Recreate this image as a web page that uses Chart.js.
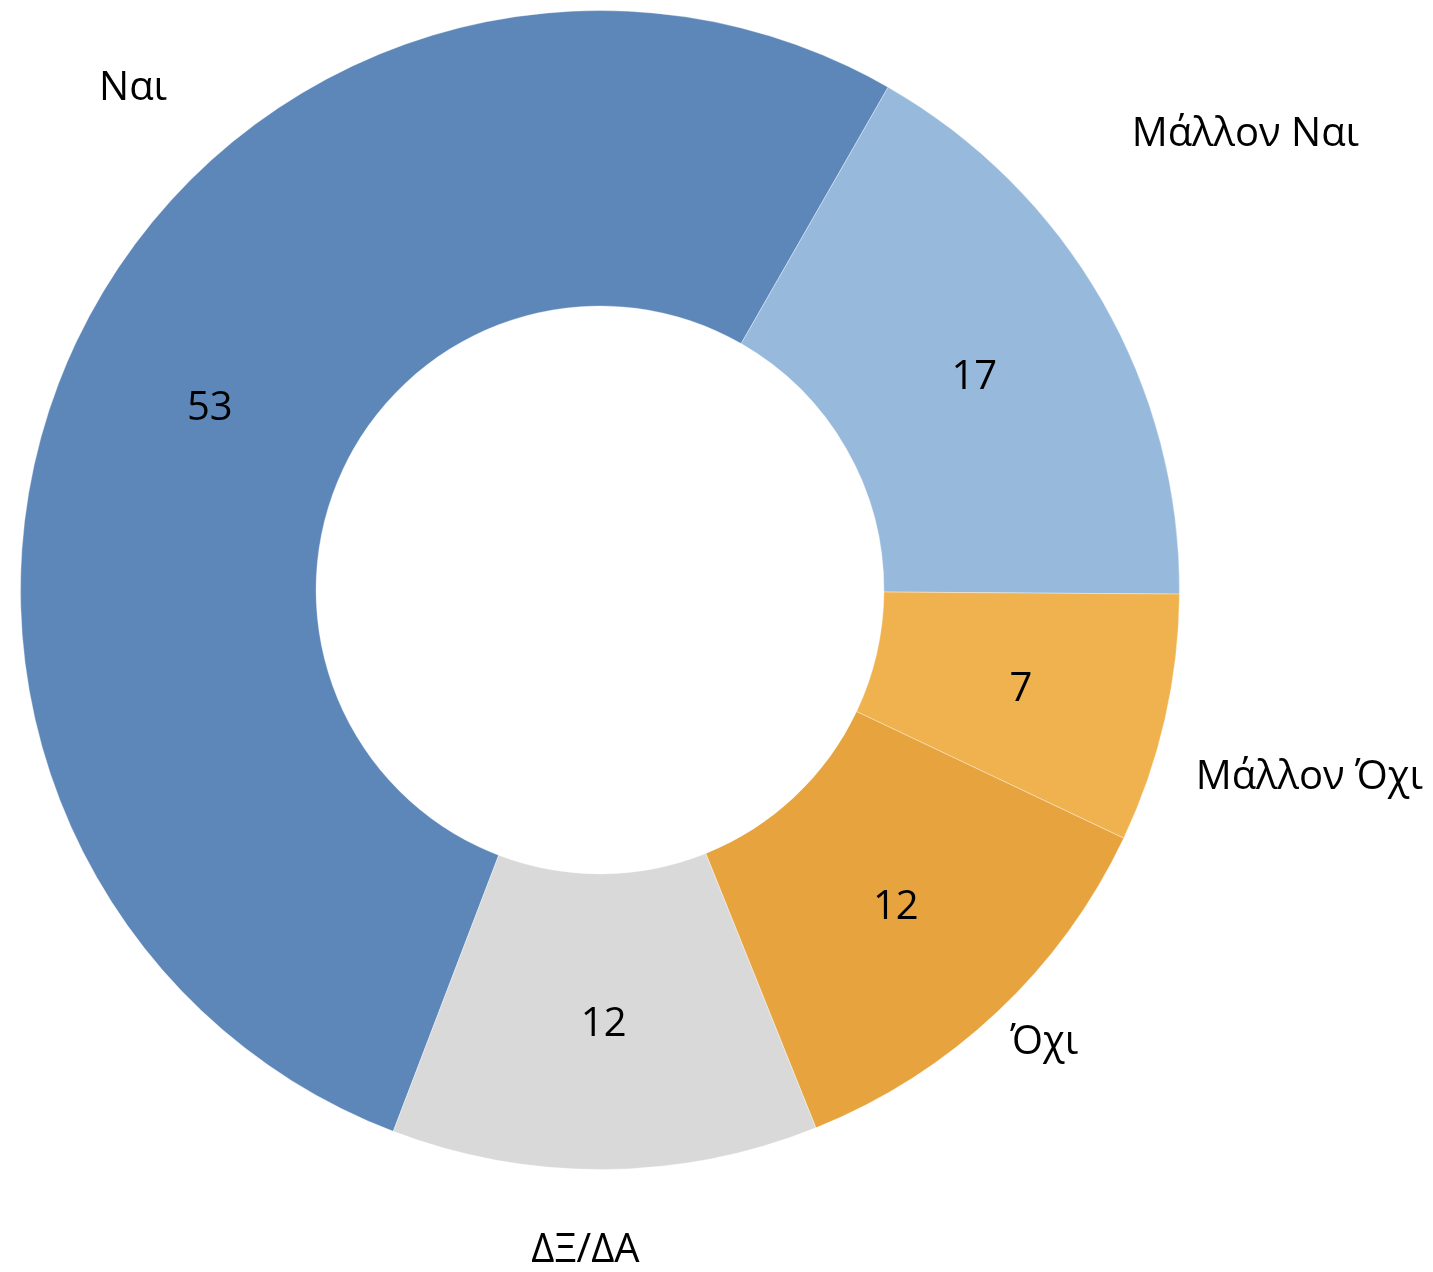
<!DOCTYPE html>
<html>
<head>
<meta charset="utf-8">
<script src="https://cdn.jsdelivr.net/npm/chart.js@4"></script>
<style>
  html, body { margin: 0; padding: 0; background: #fff; }
  canvas { display: block; }
</style>
</head>
<body>
<canvas id="donut" width="1433" height="1272"></canvas>
<script>
// Data
const categories = ['Ναι', 'Μάλλον Ναι', 'Μάλλον Όχι', 'Όχι', 'ΔΞ/ΔΑ'];
const values = [53, 17, 7, 12, 12];
const sliceColors = ['#5E87B9', '#96B9DC', '#F0B24F', '#E7A33D', '#D9D9D9'];

// Manual nudges (px) for outside category labels, relative to a radial anchor
const labelNudges = [[111, -228], [91, -137], [86, 45], [6, -13], [-20, 21]];

const FONT = '"Open Sans", "DejaVu Sans", sans-serif';

// Draws value labels inside the ring and category labels outside
const sliceLabelsPlugin = {
  id: 'sliceLabels',
  afterDatasetsDraw: (chart) => {
    const ctx = chart.ctx;
    const meta = chart.getDatasetMeta(0);
    ctx.save();
    ctx.fillStyle = '#000';
    ctx.textAlign = 'center';
    ctx.textBaseline = 'middle';
    ctx.font = '40px ' + FONT;

    meta.data.forEach((arc, i) => {
      const p = arc.getProps(['x', 'y', 'startAngle', 'endAngle', 'innerRadius', 'outerRadius'], true);
      const mid = (p.startAngle + p.endAngle) / 2;
      const rIn = (p.innerRadius + p.outerRadius) / 2;
      ctx.fillText(String(values[i]), p.x + Math.cos(mid) * rIn, p.y + Math.sin(mid) * rIn + 3);

      const rOut = p.outerRadius + 60;
      const nx = labelNudges[i][0], ny = labelNudges[i][1];
      ctx.fillText(categories[i], p.x + Math.cos(mid) * rOut + nx, p.y + Math.sin(mid) * rOut + ny);
    });
    ctx.restore();
  }
};

new Chart(document.getElementById('donut'), {
  type: 'doughnut',
  data: {
    labels: categories,
    datasets: [{
      data: values,
      backgroundColor: sliceColors,
      borderColor: 'rgba(255,255,255,0.35)',
      borderWidth: 1
    }]
  },
  options: {
    responsive: false,
    animation: false,
    rotation: -159.1,
    cutout: '49%',
    layout: { padding: { left: 20, right: 253, top: 10, bottom: 102 } },
    plugins: {
      legend: { display: false },
      tooltip: { enabled: false }
    }
  },
  plugins: [sliceLabelsPlugin]
});
</script>
</body>
</html>
